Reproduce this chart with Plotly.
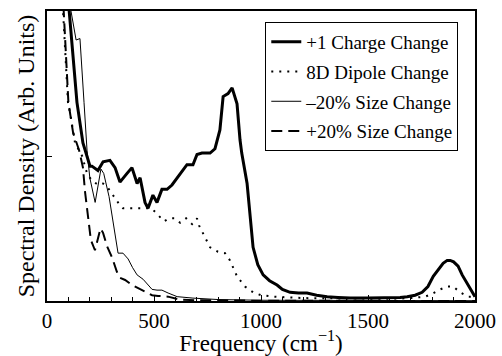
import plotly.graph_objects as go

# +1 Charge Change (thick solid)
charge_f = [95, 103, 140, 168, 178, 201, 210, 238, 262, 294, 318, 341, 374, 397, 421, 435, 458, 472,
            495, 514, 537, 561, 584, 608, 631, 654, 682, 701, 724, 762, 785, 808, 823, 846, 865, 888,
            902, 910, 935, 949, 963, 985, 1010, 1040, 1075, 1100, 1136, 1175, 1215, 1260, 1309, 1360,
            1416, 1500, 1603, 1650, 1683, 1720, 1753, 1780, 1805, 1830, 1851, 1870, 1884, 1900, 1921,
            1940, 1963, 1985, 2000]
charge_y = [2.15, 2.0, 1.37, 1.09, 1.04, 0.93, 0.93, 0.90, 0.96, 0.97, 0.92, 0.82, 0.88, 0.92, 0.81, 0.85,
            0.68, 0.64, 0.73, 0.68, 0.77, 0.77, 0.80, 0.85, 0.90, 0.94, 0.94, 1.01, 1.02, 1.02, 1.05, 1.18,
            1.41, 1.43, 1.47, 1.36, 1.11, 1.02, 0.81, 0.58, 0.37, 0.25, 0.18, 0.14, 0.11, 0.08, 0.06, 0.055,
            0.055, 0.04, 0.03, 0.025, 0.02, 0.02, 0.02, 0.025, 0.03, 0.04, 0.06, 0.10, 0.17, 0.22, 0.26,
            0.28, 0.28, 0.27, 0.24, 0.18, 0.12, 0.06, 0.03]

# 8D Dipole Change (dotted)
dipole_f = [68, 75, 98, 110, 131, 164, 187, 210, 240, 262, 285, 309, 341, 355, 388, 425, 481, 495, 519,
            547, 570, 598, 622, 650, 678, 701, 711, 729, 762, 799, 832, 855, 888, 925, 963, 1000, 1056,
            1200, 1400, 1600, 1700, 1767, 1800, 1837, 1870, 1898, 1930, 1968, 2000]
dipole_y = [2.15, 2.0, 1.37, 1.28, 1.09, 1.0, 0.88, 0.83, 0.80, 0.81, 0.78, 0.73, 0.66, 0.64, 0.64, 0.64,
            0.64, 0.63, 0.59, 0.55, 0.57, 0.57, 0.54, 0.57, 0.53, 0.57, 0.52, 0.47, 0.37, 0.34, 0.33, 0.28,
            0.17, 0.10, 0.06, 0.04, 0.03, 0.02, 0.015, 0.015, 0.02, 0.03, 0.05, 0.08, 0.10, 0.10, 0.06,
            0.03, 0.03]

# -20% Size Change (thin solid)
minus_f = [105, 112, 136, 154, 173, 187, 200, 225, 252, 265, 290, 304, 332, 355, 379, 400, 421, 449, 467,
           491, 514, 537, 566, 608, 682, 800, 1000, 1500, 2000]
minus_y = [2.15, 2.0, 1.80, 1.81, 1.37, 1.04, 0.85, 0.68, 0.91, 0.88, 0.72, 0.60, 0.33, 0.33, 0.29, 0.23,
           0.18, 0.15, 0.12, 0.08, 0.075, 0.075, 0.055, 0.03, 0.02, 0.01, 0.005, 0.003, 0.002]

# +20% Size Change (dashed)
plus_f = [71, 78, 100, 122, 150, 168, 178, 187, 195, 205, 224, 250, 262, 280, 304, 327, 341, 365, 397,
          425, 467, 491, 519, 566, 620, 700, 1000, 2000]
plus_y = [2.15, 2.0, 1.37, 1.16, 1.04, 0.92, 0.75, 0.64, 0.52, 0.42, 0.35, 0.50, 0.47, 0.38, 0.30, 0.20,
          0.16, 0.145, 0.11, 0.09, 0.06, 0.04, 0.035, 0.03, 0.01, 0.005, 0.002, 0.0]

x_ticks = [0, 500, 1000, 1500, 2000]
x_ticklabels = ["0", "500", "1000", "1500", "2000"]

FONT = "Liberation Serif, Times New Roman, serif"

fig = go.Figure()
fig.add_trace(go.Scatter(x=charge_f, y=charge_y, mode="lines", name="+1 Charge Change",
                         legendgroup="a", line=dict(color="black", width=3)))
fig.add_trace(go.Scatter(x=dipole_f, y=dipole_y, mode="lines", name="8D Dipole Change",
                         legendgroup="b", line=dict(color="black", width=2, dash="2px,6px")))
fig.add_trace(go.Scatter(x=minus_f, y=minus_y, mode="lines", name="\u201320% Size Change",
                         legendgroup="c", line=dict(color="black", width=1)))
fig.add_trace(go.Scatter(x=plus_f, y=plus_y, mode="lines", name="+20% Size Change",
                         legendgroup="d", line=dict(color="black", width=2, dash="11px,6px")))

fig.update_layout(
    width=502, height=356,
    margin=dict(l=47, r=27, t=11, b=55, autoexpand=False),
    paper_bgcolor="white", plot_bgcolor="white",
    font=dict(family=FONT, color="black", size=20),
    showlegend=True,
    legend=dict(x=0.51, y=0.962, xanchor="left", yanchor="top",
                bordercolor="black", borderwidth=1, bgcolor="white",
                font=dict(family=FONT, size=19, color="black"),
                traceorder="grouped", tracegroupgap=2),
    xaxis=dict(range=[0, 2000], tickvals=x_ticks, ticktext=x_ticklabels, automargin=False,
               showline=True, linecolor="black", linewidth=1.5, mirror=True,
               ticks="inside", ticklen=6, tickcolor="black",
               minor=dict(dtick=100, ticks="inside", ticklen=4, tickcolor="black"),
               showgrid=False, zeroline=False,
               tickfont=dict(family=FONT, size=21),
               title=dict(text="Frequency (cm<sup>\u22121</sup>)",
                          font=dict(family=FONT, size=23),
                          standoff=0)),
    yaxis=dict(range=[0, 2], tickvals=[0, 1, 2], showticklabels=False, automargin=False,
               showline=True, linecolor="black", linewidth=1.5, mirror=True,
               ticks="inside", ticklen=5, tickcolor="black",
               showgrid=False, zeroline=False,
               title=dict(text="Spectral Density (Arb. Units)",
                          font=dict(family=FONT, size=24),
                          standoff=4)),
)

fig.write_html("out.html")
